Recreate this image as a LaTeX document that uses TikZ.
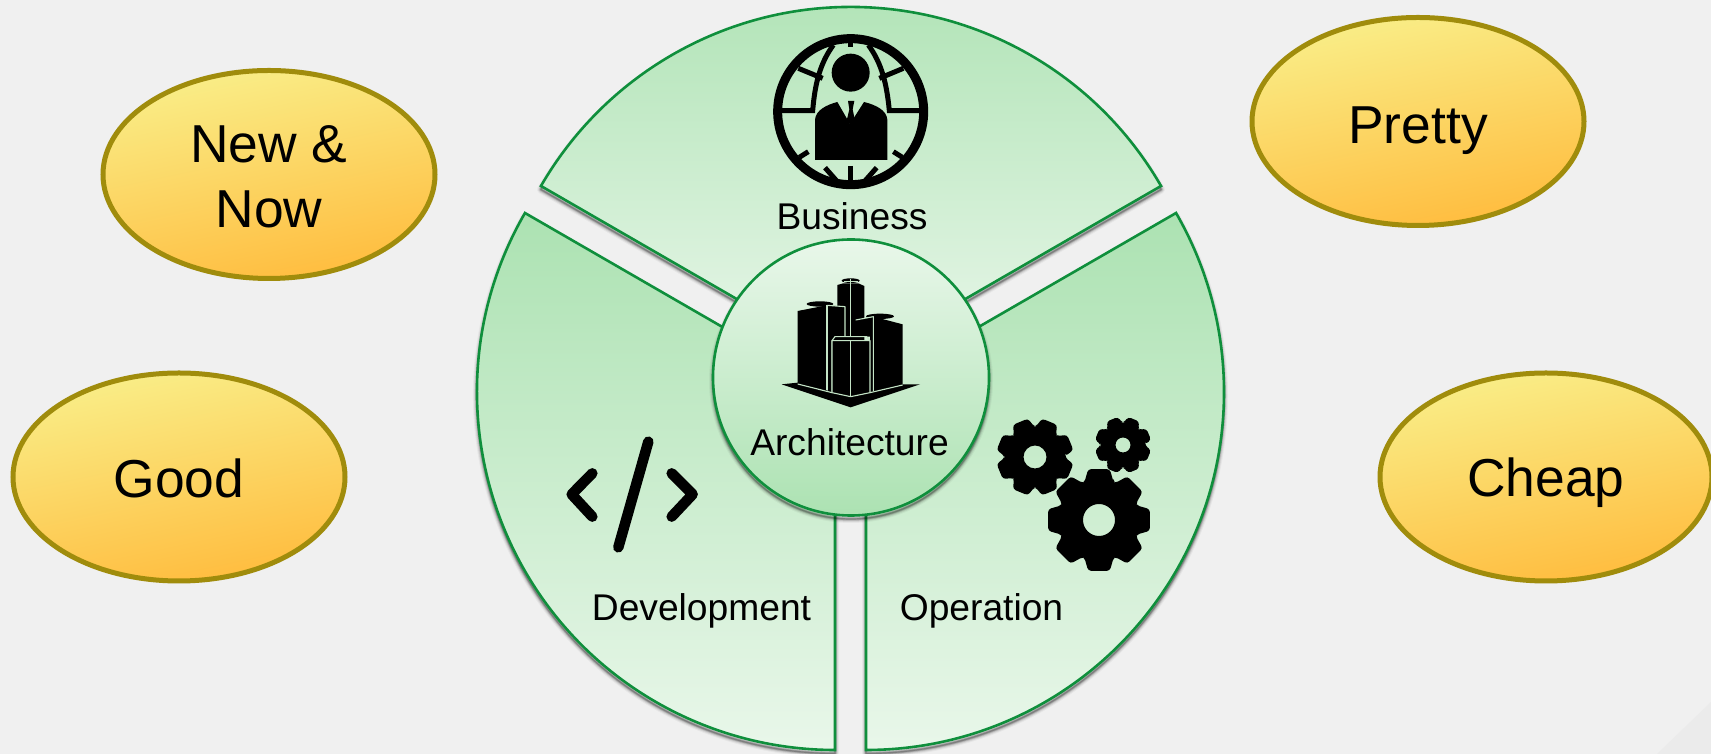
\documentclass[tikz,border=0pt]{standalone}
\usepackage{fontspec}
\setmainfont{Liberation Sans}
\usetikzlibrary{shapes.geometric}
\definecolor{bgc}{HTML}{F0F0F0}
\definecolor{cornerc}{HTML}{EBEBEB}
\definecolor{rimc}{HTML}{0F8F3C}
\definecolor{dark}{HTML}{ACE2B2}
\definecolor{lite}{HTML}{E9F7EA}
\definecolor{olive}{HTML}{A08C0C}
\definecolor{ytop}{HTML}{F9EE88}
\definecolor{ymid}{HTML}{F8E46E}
\definecolor{ybot}{HTML}{FFBC3E}
\definecolor{bldline}{HTML}{C4E4C6}
\tikzset{
  x=1pt,y=1pt,
  wedge/.style={draw=rimc,line width=2.6pt,line join=miter,top color=dark,bottom color=lite},
  hub/.style={draw=rimc,line width=2.6pt,top color=lite,bottom color=dark},
  blob/.style={ellipse,draw=olive,line width=5pt,inner sep=0pt,minimum width=332pt,minimum height=208pt,
    top color=ytop,middle color=ymid,bottom color=ybot,shading angle=12,font=\fontsize{53.4}{65}\selectfont,text=black},
  oneline/.style={text height=#1,text depth=0pt},
  smalltext/.style={font=\fontsize{37.2}{44}\selectfont,anchor=base,inner sep=0pt,text=black},
  zoomA/.style={shift={(740pt,754pt)},x=.33333pt,y=-.33333pt},
  zoomB/.style={shift={(700pt,524pt)},x=.33333pt,y=-.33333pt},
  zoomC/.style={shift={(550pt,334pt)},x=.33333pt,y=-.33333pt},
  bld/.style={draw=bldline,line width=1.1pt,line join=round},
  globeline/.style={draw=black,line width=5pt,line cap=butt},
  codeline/.style={draw=black,line width=10.5pt,line cap=round,line join=round}
}
\newcommand{\softshadow}[1]{%
  \foreach \w/\o in {8/.04,6/.07,4/.11,2.5/.16,1.2/.2}{
    \draw[black,opacity=\o,line width=\w pt,line join=round,yshift=-3.5pt] #1;
  }}
\newcommand{\mygear}[5]{% cx cy R rot hole
  \fill[black,even odd rule,rounded corners=3pt]
    ({#1+.78*#3*cos(#4-21)},{#2+.78*#3*sin(#4-21)})
    \foreach \k [evaluate=\k as \a using #4+45*\k] in {0,...,7}{
      -- ({#1+#3*cos(\a-12)},{#2+#3*sin(\a-12)})
      -- ({#1+#3*cos(\a+12)},{#2+#3*sin(\a+12)})
      -- ({#1+.78*#3*cos(\a+21)},{#2+.78*#3*sin(\a+21)})
      -- ({#1+.78*#3*cos(\a+24)},{#2+.78*#3*sin(\a+24)})
    } -- cycle
    (#1,#2) circle (#5);
}
\newcommand{\bizpath}{(851,389) -- ++(30:358) arc[start angle=30,end angle=150,radius=358] -- cycle}
\newcommand{\devpath}{(835,362) -- ++(150:358) arc[start angle=150,end angle=270,radius=358] -- cycle}
\newcommand{\opspath}{(866,362) -- ++(270:358) arc[start angle=270,end angle=390,radius=358] -- cycle}
\newcommand{\hubpath}{(851,376.5) circle (138)}
\begin{document}
\begin{tikzpicture}
\useasboundingbox (0,0) rectangle (1711,754);
\fill[bgc] (0,0) rectangle (1711,754);
\fill[cornerc] (1657,0) -- (1711,52) -- (1711,0) -- cycle;

% sectors
\softshadow{\bizpath}
\softshadow{\devpath}
\softshadow{\opspath}
\shadedraw[wedge] \bizpath;
\shadedraw[wedge] \devpath;
\shadedraw[wedge] \opspath;
\softshadow{\hubpath}
\shadedraw[hub] \hubpath;

% globe icon
\begin{scope}[zoomA]
  \draw[black,line width=9pt] (332,335) circle (219);
  \fill[black] (332,218) circle (57);
  \fill[black] (225,480) -- (225,360) .. controls (226,330) and (262,314) .. (292,306)
    -- (330,372) -- (372,306) .. controls (405,314) and (441,330) .. (442,360) -- (442,480) -- cycle;
  \fill[black] (324,303) -- (343,303) -- (338,328) -- (345,362) -- (333,376) -- (320,362) -- (328,328) -- cycle;
  \draw[globeline] (125,332) -- (218,332) .. controls (225,250) and (240,190) .. (280,135);
  \draw[globeline] (540,332) -- (448,332) .. controls (440,250) and (425,190) .. (385,135);
  \draw[globeline] (175,205) -- (248,235);
  \draw[globeline] (490,205) -- (418,235);
  \draw[globeline] (178,472) -- (205,455);
  \draw[globeline] (487,472) -- (460,455);
  \draw[globeline] (332,498) -- (332,545);
  \draw[globeline] (255,503) -- (292,545);
  \draw[globeline] (410,503) -- (373,545);
  \draw[globeline] (332,118) -- (332,140);
\end{scope}

% building icon
\begin{scope}[zoomB]
  \fill[black] (412,165) -- (430,160) -- (475,160) -- (493,168) -- (493,330) -- (412,330) -- cycle;
  \draw[bld] (452,160) -- (452,320);
  \fill[black] (452,152) ellipse (27 and 7);
  \draw[bldline,line width=.7pt] (432,153) -- (474,153) (452,147) -- (452,158);
  \fill[black] (293,243) -- (380,226) -- (435,230) -- (435,330) -- (395,330) -- (395,492) -- (293,460) -- cycle;
  \fill[black] (360,222) ellipse (40 and 8);
  \draw[bld] (380,226) -- (435,230) -- (435,320);
  \draw[bld] (381,226) -- (381,486);
  \fill[black] (467,270) -- (520,260) -- (608,283) -- (608,465) -- (510,492) -- (510,320) -- (467,320) -- cycle;
  \fill[black] (540,259) ellipse (42 and 8);
  \draw[bld] (467,270) -- (520,260) -- (520,484);
  \fill[black] (245,463) -- (293,458) -- (452,500) -- (608,463) -- (660,463) -- (452,532) -- cycle;
  \draw[bld,fill=black] (396,332) -- (510,332) -- (510,488) -- (452,500) -- (396,488) -- cycle;
  \draw[bld] (396,332) -- (405,320) -- (500,320) -- (510,332);
  \draw[bld] (452,332) -- (452,500);
  \draw[bld] (293,462) -- (396,488);
  \draw[bld] (510,488) -- (608,465);
\end{scope}

% code icon
\begin{scope}[zoomC]
  \draw[codeline] (127,160) -- (65,223) -- (127,290);
  \draw[codeline] (295,65) -- (205,382);
  \draw[codeline] (365,160) -- (428,223) -- (365,290);
\end{scope}

% gear icons
\mygear{1099}{234}{52}{90}{16}
\mygear{1035}{297}{39}{22.5}{11.5}
\mygear{1123}{309}{28.5}{22.5}{7.5}

% labels
\node[smalltext] (business) at (852,524) {Business};
\node[smalltext] (architecture) at (849.5,298) {Architecture};
\node[smalltext] (development) at (701.5,133) {Development};
\node[smalltext] (operation) at (981.5,133) {Operation};

% ellipses
\node[blob] (newnow) at (269,579.5) {\raisebox{-13.5pt}[0pt][0pt]{\begin{tabular}{@{}c@{}}New \&\\Now\end{tabular}}};
\node[blob,oneline=45pt] (pretty) at (1418,632.5) {Pretty};
\node[blob,oneline=42pt] (good) at (179,277) {Good};
\node[blob,oneline=40pt] (cheap) at (1546,277) {Cheap};
\end{tikzpicture}
\end{document}
